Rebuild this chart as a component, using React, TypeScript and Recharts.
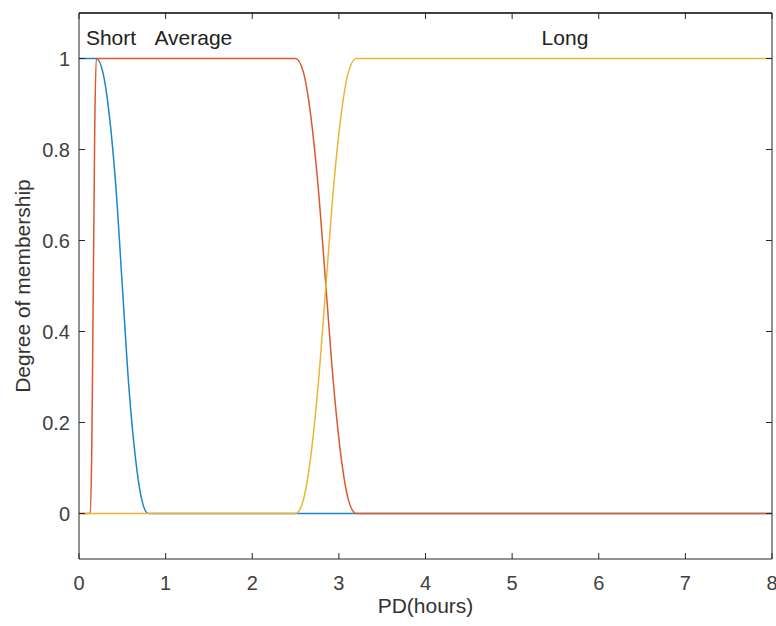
import React from 'react';
import { LineChart, Line, XAxis, YAxis, ReferenceDot, ReferenceLine, Label } from 'recharts';

// x positions (hours) and membership degrees
const shortX = [0, 0.2, 0.275, 0.35, 0.425, 0.5, 0.575, 0.65, 0.725, 0.8, 8];
const shortY = [1, 1, 0.97, 0.875, 0.72, 0.5, 0.28, 0.125, 0.03, 0, 0];

const averageX = [0, 0.13, 0.148, 0.165, 0.182, 0.2, 2.5, 2.59, 2.675, 2.76, 2.85, 2.94, 3.025, 3.11, 3.2, 8];
const averageY = [0, 0, 0.15, 0.5, 0.85, 1, 1, 0.97, 0.875, 0.72, 0.5, 0.28, 0.125, 0.03, 0, 0];

const longX = [0, 2.5, 2.59, 2.675, 2.76, 2.85, 2.94, 3.025, 3.11, 3.2, 8];
const longY = [0, 0, 0.03, 0.125, 0.28, 0.5, 0.72, 0.875, 0.97, 1, 1];

const mfNames = ['Short', 'Average', 'Long'];
const mfLabelX = [0.37, 1.32, 5.61];
const mfLabelY = 1.047;

const xTicks = [0, 1, 2, 3, 4, 5, 6, 7, 8];
const yTicks = [0, 0.2, 0.4, 0.6, 0.8, 1];
const xDomain = [0, 8];
const yDomain = [-0.1, 1.1];

const xTitle = 'PD(hours)';
const yTitle = 'Degree of membership';

const zip = (xs: number[], ys: number[]) => xs.map((x, i) => ({ x, y: ys[i] }));
const shortData = zip(shortX, shortY);
const averageData = zip(averageX, averageY);
const longData = zip(longX, longY);

const FONT = '"Liberation Sans", Arial, Helvetica, sans-serif';
const AXIS = '#262626';
const TICK_TEXT = '#404040';
const COLORS = ['#1a86cc', '#d95a2a', '#ecb434'];

const noLabel = () => '';

export default function App() {
  return (
    <div style={{ position: 'absolute', left: 0, top: 0, width: 776, height: 626, fontFamily: FONT }}>
      <LineChart width={776} height={626} margin={{ top: 8, right: 3, bottom: 8, left: 0 }}>
        <XAxis
          xAxisId="b"
          dataKey="x"
          type="number"
          domain={xDomain}
          ticks={xTicks}
          interval={0}
          allowDataOverflow
          tickSize={-6}
          tickMargin={23}
          height={59}
          stroke={AXIS}
          tick={{ fill: TICK_TEXT, fontSize: 20, fontFamily: FONT }}
        >
          <Label
            content={(props: any) => {
              const vb = props.viewBox || {};
              return (
                <text
                  x={vb.x + vb.width / 2}
                  y={vb.y + 54}
                  textAnchor="middle"
                  fill="#333"
                  fontSize={21}
                  fontFamily={FONT}
                >
                  {xTitle}
                </text>
              );
            }}
          />
        </XAxis>
        <XAxis
          xAxisId="t"
          dataKey="x"
          orientation="top"
          type="number"
          domain={xDomain}
          ticks={xTicks}
          interval={0}
          allowDataOverflow
          tickSize={-6}
          height={5}
          stroke={AXIS}
          strokeWidth={1}
          tickFormatter={noLabel}
        />
        <YAxis
          yAxisId="l"
          type="number"
          domain={yDomain}
          ticks={yTicks}
          interval={0}
          allowDataOverflow
          tickSize={-6}
          tickMargin={15}
          width={79}
          stroke={AXIS}
          tick={{ fill: TICK_TEXT, fontSize: 20, fontFamily: FONT }}
        >
          <Label
            content={(props: any) => {
              const vb = props.viewBox || {};
              const cx = 30;
              const cy = vb.y + vb.height / 2;
              return (
                <text
                  x={cx}
                  y={cy}
                  transform={`rotate(-90 ${cx} ${cy})`}
                  textAnchor="middle"
                  fill="#333"
                  fontSize={21}
                  fontFamily={FONT}
                >
                  {yTitle}
                </text>
              );
            }}
          />
        </YAxis>
        <YAxis
          yAxisId="r"
          orientation="right"
          type="number"
          domain={yDomain}
          ticks={yTicks}
          interval={0}
          allowDataOverflow
          tickSize={-6}
          width={1}
          stroke={AXIS}
          tickFormatter={noLabel}
        />
        <Line
          xAxisId="b"
          yAxisId="l"
          data={shortData}
          dataKey="y"
          type="monotone"
          stroke={COLORS[0]}
          strokeWidth={1.5}
          dot={false}
          activeDot={false}
          isAnimationActive={false}
        />
        <Line
          xAxisId="b"
          yAxisId="l"
          data={averageData}
          dataKey="y"
          type="monotone"
          stroke={COLORS[1]}
          strokeWidth={1.5}
          dot={false}
          activeDot={false}
          isAnimationActive={false}
        />
        <Line
          xAxisId="b"
          yAxisId="l"
          data={longData}
          dataKey="y"
          type="monotone"
          stroke={COLORS[2]}
          strokeWidth={1.5}
          dot={false}
          activeDot={false}
          isAnimationActive={false}
        />
        <ReferenceLine xAxisId="b" yAxisId="l" y={yDomain[1]} stroke={AXIS} strokeWidth={1.5} ifOverflow="visible" />
        {mfNames.map((name, i) => (
          <ReferenceDot
            key={name}
            xAxisId="b"
            yAxisId="l"
            x={mfLabelX[i]}
            y={mfLabelY}
            r={0}
            fill="none"
            stroke="none"
            label={{ value: name, position: 'center', fill: '#222', fontSize: 21, fontFamily: FONT }}
          />
        ))}
      </LineChart>
    </div>
  );
}
